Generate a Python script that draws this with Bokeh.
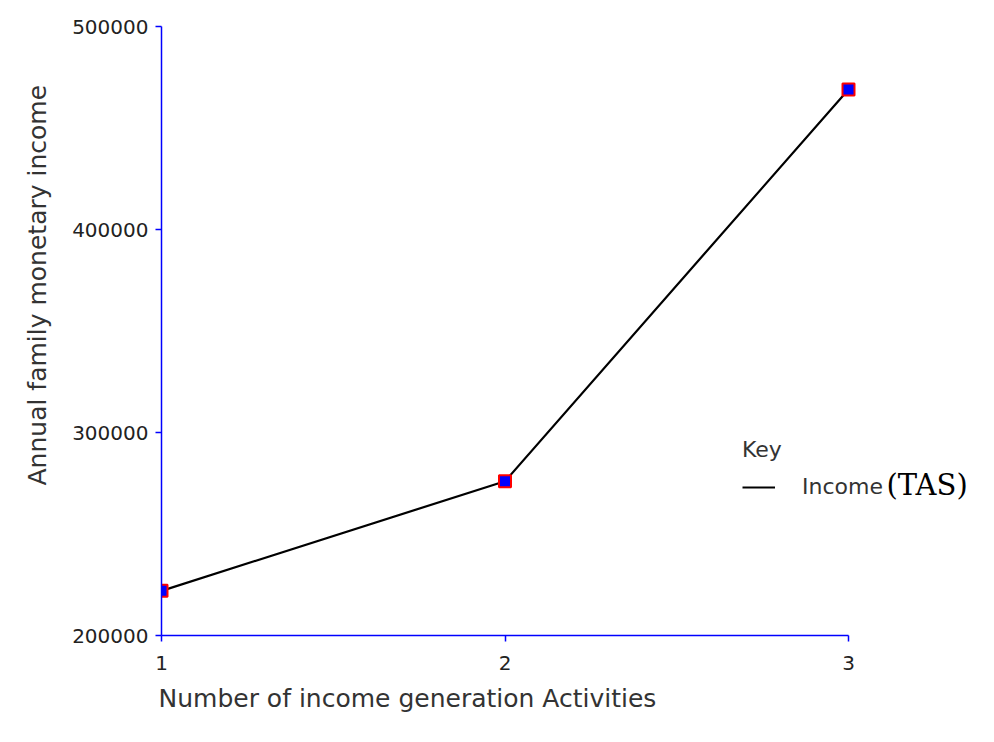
from bokeh.plotting import figure
from bokeh.models import (Range1d, FixedTicker, Legend, LegendItem, Label,
                          NumeralTickFormatter, Title)
from bokeh.embed import file_html
from bokeh.resources import INLINE

activities = [1, 2, 3]
income = [222000, 276000, 469000]
y_ticks = [200000, 300000, 400000, 500000]
x_ticks = [1, 2, 3]

FONT = "DejaVu Sans"
PX_PER_X = 343.5

p = figure(width=990, height=734, output_backend="svg", toolbar_location=None,
           x_range=Range1d(1, 3 + 142 / PX_PER_X), y_range=Range1d(200000, 500000),
           min_border_left=161, min_border_top=26, min_border_right=0, min_border_bottom=99)
p.frame_width = 829
p.frame_height = 609
p.outline_line_color = None
p.grid.visible = False
p.background_fill_color = "white"

for ax in (p.xaxis[0], p.yaxis[0]):
    ax.axis_line_color = "#0000ff"
    ax.axis_line_width = 1.5
    ax.major_tick_line_color = "#0000ff"
    ax.major_tick_line_width = 1.5
    ax.major_tick_in = 0
    ax.major_tick_out = 6
    ax.minor_tick_line_color = None
    ax.major_label_text_font = FONT
    ax.major_label_text_font_size = "20px"
    ax.major_label_text_color = "#222222"

p.xaxis.ticker = FixedTicker(ticks=x_ticks)
p.yaxis.ticker = FixedTicker(ticks=y_ticks)
p.xaxis.bounds = (1, 3)
p.yaxis.formatter = NumeralTickFormatter(format="0")
p.xaxis.major_label_standoff = 14
p.yaxis.major_label_standoff = 7

x_title = Title(text="Number of income generation Activities", align="left", offset=-3,
                standoff=18, text_font=FONT, text_font_size="25px",
                text_font_style="normal", text_color="#333333")
p.add_layout(x_title, "below")
y_title = Title(text="Annual family monetary income", align="left", offset=150,
                standoff=36, text_font=FONT, text_font_size="25px",
                text_font_style="normal", text_color="#333333")
p.add_layout(y_title, "left")

line = p.line(activities, income, line_color="black", line_width=2.2)
p.scatter(activities, income, marker="square", size=12, fill_color="#0000ff",
          line_color="#ff0000", line_width=2)

legend = Legend(items=[LegendItem(label="Income", renderers=[line])],
                title="Key", location=(581, 136),
                border_line_alpha=0, background_fill_alpha=0,
                padding=0, margin=0, spacing=0,
                glyph_width=33, glyph_height=20, label_standoff=27,
                label_text_font=FONT, label_text_font_size="22px", label_text_color="#333333",
                title_text_font=FONT, title_text_font_size="22px", title_text_color="#333333",
                title_text_font_style="normal", title_standoff=12)
p.add_layout(legend, "center")

p.add_layout(Label(x=725, y=151, x_units="screen", y_units="screen", text="(TAS)",
                   text_font="DejaVu Serif", text_font_size="29px", text_color="black",
                   text_baseline="middle"))

open("out.html", "w").write(file_html(p, INLINE))
